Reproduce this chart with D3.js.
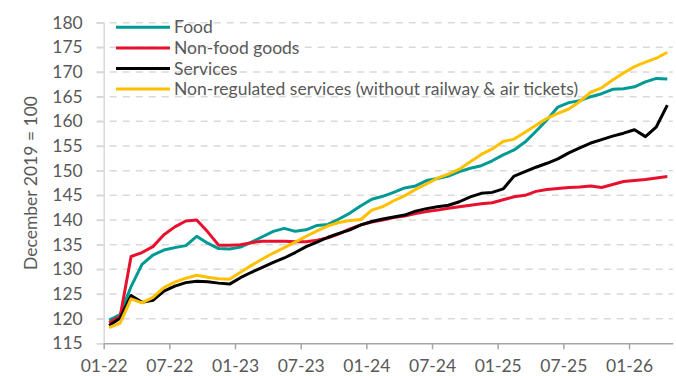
<!DOCTYPE html>
<html>
<head>
<meta charset="utf-8">
<script src="https://cdn.jsdelivr.net/npm/d3@7"></script>
<style>
  body { margin: 0; background: #fff; }
  text { font-family: Lato, "Open Sans", sans-serif; fill: #595959; }
</style>
</head>
<body>
<div id="chart"></div>
<script>
// chart size
var width = 676,
    height = 376;
var margin = {top: 22.7, right: 3.2, bottom: 32.7, left: 103.7};
var font_size = "17.5px";

// monthly index values, Jan 2022 .. Apr 2026 (December 2019 = 100)
var months_count = 52;
var tick_months = [0, 6, 12, 18, 24, 30, 36, 42, 48];
var tick_labels = ["01-22", "07-22", "01-23", "07-23", "01-24", "07-24", "01-25", "07-25", "01-26"];
var y_ticks = [115, 120, 125, 130, 135, 140, 145, 150, 155, 160, 165, 170, 175, 180];

var food = [119.7, 120.8, 126.5, 131.0, 132.9, 133.9, 134.4, 134.8, 136.7, 135.3, 134.2, 134.1, 134.5,
    135.5, 136.6, 137.7, 138.3, 137.7, 138.0, 138.9, 139.1, 140.2, 141.4, 142.9, 144.2, 144.8, 145.6,
    146.5, 146.9, 148.0, 148.4, 148.9, 149.8, 150.5, 151.0, 152.0, 153.2, 154.2, 155.8, 158.0, 160.3,
    162.9, 163.8, 164.2, 165.0, 165.6, 166.5, 166.6, 167.0, 168.0, 168.7, 168.6];
var nonfood = [119.2, 120.4, 132.6, 133.4, 134.6, 137.0, 138.6, 139.8, 140.0, 137.6, 134.9, 134.9, 135.0,
    135.4, 135.7, 135.7, 135.7, 135.6, 135.6, 135.9, 136.4, 137.2, 138.2, 139.0, 139.6, 140.0, 140.5,
    140.8, 141.3, 141.7, 142.0, 142.4, 142.7, 143.0, 143.3, 143.5, 144.1, 144.7, 145.0, 145.8, 146.2,
    146.4, 146.6, 146.7, 146.9, 146.6, 147.2, 147.8, 148.0, 148.2, 148.5, 148.8];
var services = [118.6, 120.1, 124.7, 123.3, 123.7, 125.6, 126.6, 127.3, 127.6, 127.5, 127.2, 127.0, 128.3,
    129.4, 130.4, 131.4, 132.3, 133.4, 134.6, 135.5, 136.5, 137.3, 138.0, 139.0, 139.7, 140.2, 140.6,
    141.0, 141.8, 142.3, 142.7, 143.0, 143.7, 144.7, 145.4, 145.6, 146.3, 148.9, 149.8, 150.7, 151.5,
    152.4, 153.6, 154.6, 155.6, 156.3, 157.0, 157.6, 158.3, 156.9, 158.9, 163.3];
var nonregulated = [118.2, 119.1, 124.0, 123.2, 124.3, 126.3, 127.4, 128.2, 128.8, 128.4, 128.1, 128.0, 129.4,
    130.8, 132.1, 133.3, 134.4, 135.5, 136.7, 137.8, 138.8, 139.5, 139.9, 140.1, 142.0, 142.7, 143.9,
    144.9, 146.2, 147.3, 148.5, 149.3, 150.3, 151.8, 153.3, 154.4, 155.9, 156.4, 157.8, 159.2, 160.6,
    161.6, 162.5, 164.0, 165.9, 166.8, 168.4, 169.8, 171.1, 172.0, 172.8, 174.0];

var series_names = ["Food", "Non-food goods", "Services", "Non-regulated services (without railway & air tickets)"];
var series_values = [food, nonfood, services, nonregulated];
var colors = ["#009A95", "#E8112D", "#000000", "#FFC000"];

var svg = d3.select("#chart").append("svg")
    .attr("width", width).attr("height", height);

// scales: months are bands, ticks sit on band edges
var x = d3.scaleLinear().domain([0, months_count]).range([margin.left, width - margin.right]);
var y = d3.scaleLinear().domain([115, 180]).range([height - margin.bottom, margin.top]);

// dashed gridlines
svg.append("g").selectAll("line").data(y_ticks.slice(1)).enter().append("line")
    .attr("x1", margin.left - 7)
    .attr("x2", width - margin.right)
    .attr("y1", function(d) { return y(d); })
    .attr("y2", function(d) { return y(d); })
    .attr("stroke", "#D9D9D9")
    .attr("stroke-width", 1.5)
    .attr("stroke-dasharray", "7,6");

// y axis
var yAxis = svg.append("g")
    .attr("transform", "translate(" + margin.left + ",0)")
    .call(d3.axisLeft(y).tickValues(y_ticks).tickSize(7).tickPadding(14));
yAxis.select(".domain").attr("stroke", "#D9D9D9").attr("stroke-width", 1.5);
yAxis.selectAll(".tick line").attr("stroke", "#D9D9D9").attr("stroke-width", 1.5);
yAxis.selectAll("text").style("font-size", font_size).attr("fill", "#595959");

// x axis
var xAxis = svg.append("g")
    .attr("transform", "translate(0," + y(115) + ")")
    .call(d3.axisBottom(x).tickValues(tick_months).tickSizeInner(6).tickSizeOuter(0).tickPadding(10)
        .tickFormat(function(d, i) { return tick_labels[i]; }));
xAxis.select(".domain").attr("stroke", "#A6A6A6").attr("stroke-width", 1.5);
xAxis.selectAll(".tick line").attr("stroke", "#A6A6A6").attr("stroke-width", 1.5);
xAxis.selectAll("text").style("font-size", font_size).attr("fill", "#595959");

// y axis title
svg.append("text")
    .attr("transform", "translate(31," + (margin.top + y(115)) / 2 + ") rotate(-90)")
    .attr("text-anchor", "middle")
    .attr("dy", "0.35em")
    .style("font-size", font_size)
    .text("December 2019 = 100");

// lines
var line = d3.line()
    .x(function(d, i) { return x(i + 0.5); })
    .y(function(d) { return y(d); });

svg.append("g").selectAll("path").data(series_values).enter().append("path")
    .attr("d", line)
    .attr("fill", "none")
    .attr("stroke", function(d, i) { return colors[i]; })
    .attr("stroke-width", 3)
    .attr("stroke-linejoin", "round");

// legend
var legend = svg.append("g").selectAll("g").data(series_names).enter().append("g")
    .attr("transform", function(d, i) { return "translate(116," + (27.3 + i * 20.6) + ")"; });
legend.append("line")
    .attr("x1", 0).attr("x2", 54)
    .attr("stroke", function(d, i) { return colors[i]; })
    .attr("stroke-width", 3);
legend.append("text")
    .attr("x", 58).attr("dy", "0.35em")
    .style("font-size", font_size)
    .text(function(d) { return d; });
</script>
</body>
</html>
